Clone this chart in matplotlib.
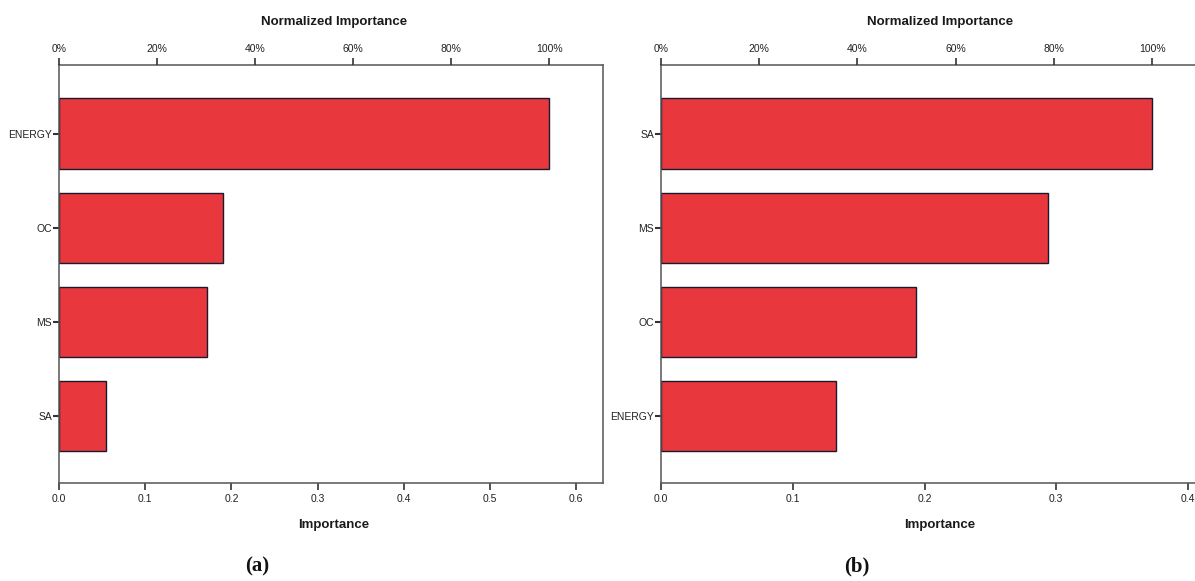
import matplotlib
matplotlib.use("Agg")
import matplotlib.pyplot as plt

plt.rcParams['font.family'] = ['Liberation Sans', 'DejaVu Sans']

# Data
cats_a = ["ENERGY", "OC", "MS", "SA"]
imp_a = [0.5685, 0.190, 0.172, 0.0545]
cats_b = ["SA", "MS", "OC", "ENERGY"]
imp_b = [0.3727, 0.2937, 0.1935, 0.1328]

xticks_a = [0.0, 0.1, 0.2, 0.3, 0.4, 0.5, 0.6]
xticks_b = [0.0, 0.1, 0.2, 0.3, 0.4]
pct_ticks = [0, 20, 40, 60, 80, 100]

BAR = "#E8383D"
EDGE = "#1a1a2e"
SPINE = "#555555"

W, H = 1195, 581
fig = plt.figure(figsize=(W / 100, H / 100), dpi=100)


def px(x0, x1, y0, y1):
    return [x0 / W, 1 - y1 / H, (x1 - x0) / W, (y1 - y0) / H]


def panel(rect, cats, vals, xticks, xmax, letter, title_x, letter_x):
    ax = fig.add_axes(rect)
    pos = list(range(len(cats)))
    ax.barh(pos, vals, height=0.75, color=BAR, edgecolor=EDGE, linewidth=1.0)
    ax.set_ylim(3.71, -0.73)
    ax.set_xlim(0, xmax)
    ax.set_yticks(pos)
    ax.set_yticklabels(cats, fontsize=7.5)
    ax.set_xticks(xticks)
    ax.set_xticklabels([f"{t:.1f}" for t in xticks], fontsize=7.5)
    ax.tick_params(axis='x', length=5, width=1.2, color="#333333",
                   labelcolor="#222222", pad=3)
    ax.tick_params(axis='y', length=4, width=1.5, color="#333333",
                   labelcolor="#222222", pad=1)
    for s in ax.spines.values():
        s.set_color(SPINE)
        s.set_linewidth(1.1)
    # top normalized axis
    top = ax.twiny()
    vmax = max(vals)
    top.set_xlim(0, xmax / vmax * 100)
    top.set_xticks(pct_ticks)
    top.set_xticklabels([f"{p}%" for p in pct_ticks], fontsize=7.5)
    top.tick_params(axis='x', length=5, width=1.2, color="#333333",
                    labelcolor="#222222", pad=3)
    for s in top.spines.values():
        s.set_visible(False)
    fig.text(title_x / W, 1 - 22 / H, "Normalized Importance", ha='center',
             va='center', fontsize=9.5, fontweight='bold', color="#1a1a1a")
    fig.text(title_x / W, 1 - 525 / H, "Importance", ha='center',
             va='center', fontsize=9.5, fontweight='bold', color="#1a1a1a")
    fig.text(letter_x / W, 1 - 566 / H, letter, ha='center', va='center',
             fontsize=15, fontweight='bold', family=['Liberation Serif'],
             color="#111111")
    return ax


panel(px(59, 603, 65, 483), cats_a, imp_a, xticks_a, 0.631, "(a)", 334, 257)
panel(px(661, 1219, 65, 483), cats_b, imp_b, xticks_b, 0.4235, "(b)", 940, 857)

fig.savefig("out.png", dpi=100)
